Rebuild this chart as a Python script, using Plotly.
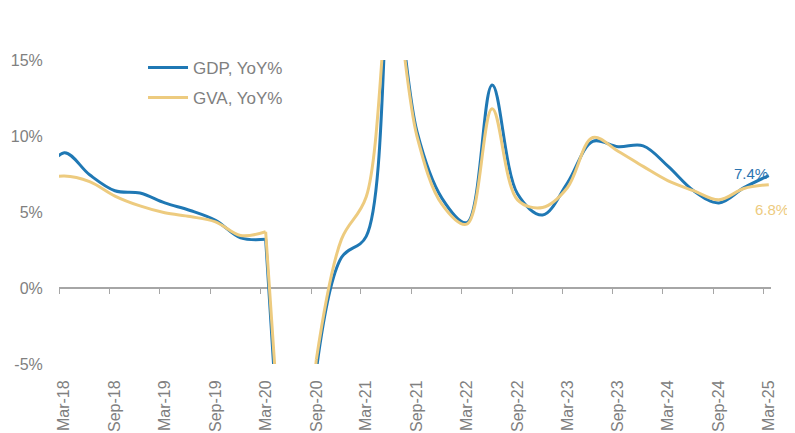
import pandas as pd
import plotly.graph_objects as go

# ---- data ----
quarters = ["Dec-17", "Mar-18", "Jun-18", "Sep-18", "Dec-18", "Mar-19", "Jun-19", "Sep-19",
            "Dec-19", "Mar-20", "Jun-20", "Sep-20", "Dec-20", "Mar-21", "Jun-21", "Sep-21",
            "Dec-21", "Mar-22", "Jun-22", "Sep-22", "Dec-22", "Mar-23", "Jun-23", "Sep-23",
            "Dec-23", "Mar-24", "Jun-24", "Sep-24", "Dec-24", "Mar-25"]
gdp_yoy = [6.8, 8.9, 7.45, 6.4, 6.25, 5.6, 5.1, 4.45, 3.3, 3.2, -23.2, -5.4, 2.0, 3.4, 21.0,
           10.3, 5.9, 4.3, 13.35, 6.2, 4.8, 6.9, 9.65, 9.3, 9.35, 8.0, 6.4, 5.6, 6.6, 7.4]
gva_yoy = [7.1, 7.37, 7.0, 6.05, 5.4, 4.95, 4.7, 4.35, 3.45, 3.7, -21.0, -4.7, 3.2, 6.0, 20.0,
           10.0, 5.5, 4.2, 11.8, 5.8, 5.3, 6.6, 9.9, 9.0, 8.0, 7.05, 6.4, 5.8, 6.55, 6.8]
tick_labels = ["Mar-18", "Sep-18", "Mar-19", "Sep-19", "Mar-20", "Sep-20", "Mar-21", "Sep-21",
               "Mar-22", "Sep-22", "Mar-23", "Sep-23", "Mar-24", "Sep-24", "Mar-25"]
y_ticks = [-5, 0, 5, 10, 15]

# ---- styling ----
BLUE = "#1F78B4"
GOLD = "#EDCB7F"
GREY = "#808080"
FONT = "Liberation Sans, Arial, sans-serif"

month_start = pd.to_datetime(quarters, format="%b-%y")
x_dates = list(month_start + pd.Timedelta(days=19))
tick_month = pd.to_datetime(tick_labels, format="%b-%y")
label_pos = tick_month + pd.Timedelta(days=19)
x_range = [pd.Timestamp("2018-03-01"), pd.Timestamp("2025-03-28")]

# the pandemic plunge (Mar-20 -> Sep-20) is drawn straight, the rest smoothed
i0 = quarters.index("Mar-20")
i1 = quarters.index("Sep-20")
pieces = [(0, i0 + 1, "spline"), (i0, i1 + 1, "linear"), (i1, len(quarters), "spline")]

fig = go.Figure()
for name, vals, color, grp in [("GDP, YoY%", gdp_yoy, BLUE, "gdp"),
                               ("GVA, YoY%", gva_yoy, GOLD, "gva")]:
    for k, (a, b, shape) in enumerate(pieces):
        fig.add_trace(go.Scatter(
            x=x_dates[a:b], y=vals[a:b], name=name, mode="lines",
            line=dict(color=color, width=3, shape=shape, smoothing=1),
            legendgroup=grp, showlegend=(k == 0)))

# carrier trace for the zero-line axis with tick marks
fig.add_trace(go.Scatter(x=tick_month, y=[None] * len(tick_month), xaxis="x2",
                         showlegend=False, hoverinfo="skip", mode="lines"))

fig.add_annotation(x=x_dates[-1], y=gdp_yoy[-1], text=f"{gdp_yoy[-1]:.1f}%", showarrow=False,
                   xshift=-18, yshift=2, font=dict(color="#2C74B0", size=15, family=FONT))
fig.add_annotation(x=x_dates[-1], y=gva_yoy[-1], text=f"{gva_yoy[-1]:.1f}%", showarrow=False,
                   xshift=3, yshift=-25, font=dict(color=GOLD, size=15, family=FONT))

# page body has an 8px margin, so the figure is sized to the remaining visible area
fig.update_layout(
    width=787, height=425,
    margin=dict(l=51, r=24, t=52, b=69, autoexpand=False),
    paper_bgcolor="white", plot_bgcolor="white",
    font=dict(family=FONT, color=GREY, size=16),
    showlegend=True,
    legend=dict(x=0.118, y=1.033, xanchor="left", yanchor="top", bgcolor="rgba(0,0,0,0)",
                font=dict(size=17, color=GREY), tracegroupgap=5, itemwidth=40),
    xaxis=dict(type="date", range=x_range, showgrid=False, zeroline=False, showline=False,
               automargin=False,
               tickvals=label_pos, ticktext=tick_labels, tickangle=-90,
               ticks="outside", ticklen=9, tickcolor="rgba(0,0,0,0)",
               tickfont=dict(size=16, color=GREY)),
    xaxis2=dict(type="date", range=x_range, overlaying="x", anchor="free", position=0.25,
                automargin=False,
                showgrid=False, zeroline=False, showline=True, linecolor="#A6A6A6", linewidth=2,
                ticks="outside", ticklen=5, tickwidth=1, tickcolor="#A6A6A6",
                tickvals=tick_month, showticklabels=False, layer="below traces"),
    yaxis=dict(range=[-5, 15], tickvals=y_ticks, ticktext=[f"{v}%" for v in y_ticks],
               automargin=False,
               showgrid=False, zeroline=False, showline=False,
               ticks="outside", ticklen=12, tickcolor="rgba(0,0,0,0)",
               tickfont=dict(size=16, color=GREY)),
)

fig.write_html("out.html")
